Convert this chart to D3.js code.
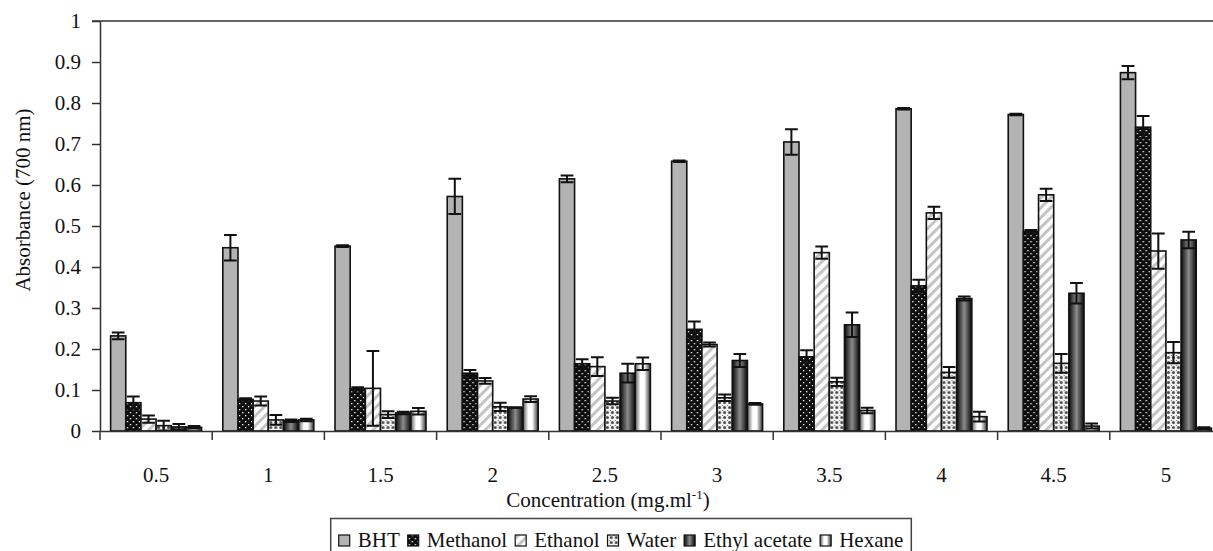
<!DOCTYPE html>
<html>
<head>
<meta charset="utf-8">
<script src="https://cdn.jsdelivr.net/npm/d3@7"></script>
<style>
  body { margin: 0; background: #fff; }
</style>
</head>
<body>
<div id="chart"></div>
<script>
// data
const categories = ['0.5', '1', '1.5', '2', '2.5', '3', '3.5', '4', '4.5', '5'];
const seriesNames = ['BHT', 'Methanol', 'Ethanol', 'Water', 'Ethyl acetate', 'Hexane'];

const bht = [0.232, 0.447, 0.451, 0.572, 0.615, 0.658, 0.705, 0.786, 0.772, 0.874];
const bhtErr = [0.008, 0.031, 0.002, 0.043, 0.008, 0.002, 0.031, 0.002, 0.002, 0.016];
const methanol = [0.069, 0.077, 0.103, 0.141, 0.164, 0.248, 0.181, 0.354, 0.487, 0.741];
const methanolErr = [0.015, 0.003, 0.004, 0.008, 0.011, 0.019, 0.016, 0.015, 0.003, 0.027];
const ethanol = [0.029, 0.073, 0.104, 0.122, 0.157, 0.211, 0.435, 0.532, 0.576, 0.439];
const ethanolErr = [0.009, 0.011, 0.091, 0.007, 0.023, 0.005, 0.015, 0.015, 0.015, 0.043];
const water = [0.013, 0.027, 0.040, 0.059, 0.073, 0.081, 0.120, 0.143, 0.165, 0.191];
const waterErr = [0.012, 0.012, 0.008, 0.010, 0.008, 0.008, 0.010, 0.013, 0.023, 0.026];
const ethylAcetate = [0.010, 0.025, 0.044, 0.057, 0.141, 0.172, 0.259, 0.323, 0.336, 0.466];
const ethylAcetateErr = [0.007, 0.003, 0.003, 0.001, 0.023, 0.016, 0.030, 0.005, 0.025, 0.020];
const hexane = [0.009, 0.027, 0.048, 0.078, 0.164, 0.066, 0.050, 0.035, 0.012, 0.007];
const hexaneErr = [0.003, 0.003, 0.008, 0.007, 0.015, 0.002, 0.007, 0.012, 0.006, 0.002];

const yTicks = [0, 0.1, 0.2, 0.3, 0.4, 0.5, 0.6, 0.7, 0.8, 0.9, 1];

const values = [bht, methanol, ethanol, water, ethylAcetate, hexane];
const errors = [bhtErr, methanolErr, ethanolErr, waterErr, ethylAcetateErr, hexaneErr];

const W = 1213, H = 551;
const margin = { left: 100, right: 1222, top: 21, bottom: 431 };
const FONT = "'Liberation Serif', Tinos, 'DejaVu Serif', serif";

const svg = d3.select('#chart').append('svg')
    .attr('width', W)
    .attr('height', H)
    .attr('font-family', FONT);

svg.append('rect').attr('width', W).attr('height', H).attr('fill', '#fff');

// fills
const defs = svg.append('defs');

const dots = defs.append('pattern').attr('id', 'p-methanol')
    .attr('width', 6).attr('height', 6).attr('patternUnits', 'userSpaceOnUse');
dots.append('rect').attr('width', 6).attr('height', 6).attr('fill', '#0d0d0d');
dots.append('rect').attr('x', 1).attr('y', 1).attr('width', 1.3).attr('height', 1.3).attr('fill', '#fff');
dots.append('rect').attr('x', 4).attr('y', 4).attr('width', 1.3).attr('height', 1.3).attr('fill', '#fff');

const stripes = defs.append('pattern').attr('id', 'p-ethanol')
    .attr('width', 7).attr('height', 7).attr('patternUnits', 'userSpaceOnUse')
    .attr('patternTransform', 'rotate(45)');
stripes.append('rect').attr('width', 7).attr('height', 7).attr('fill', '#fff');
stripes.append('rect').attr('width', 3).attr('height', 7).attr('fill', '#c4c4c4');

const lattice = defs.append('pattern').attr('id', 'p-water')
    .attr('width', 5).attr('height', 5).attr('patternUnits', 'userSpaceOnUse');
lattice.append('rect').attr('width', 5).attr('height', 5).attr('fill', '#f2f2f2');
lattice.append('circle').attr('cx', 2.5).attr('cy', 2.5).attr('r', 1.5).attr('fill', '#4a4a4a');
lattice.append('rect').attr('x', 0).attr('y', 0).attr('width', 1).attr('height', 1).attr('fill', '#777');

const dark = defs.append('linearGradient').attr('id', 'g-ethyl')
    .attr('x1', '0%').attr('x2', '100%').attr('y1', '0%').attr('y2', '0%');
dark.append('stop').attr('offset', '0%').attr('stop-color', '#080808');
dark.append('stop').attr('offset', '50%').attr('stop-color', '#8c8c8c');
dark.append('stop').attr('offset', '100%').attr('stop-color', '#080808');

const light = defs.append('linearGradient').attr('id', 'g-hexane')
    .attr('x1', '0%').attr('x2', '100%').attr('y1', '0%').attr('y2', '0%');
light.append('stop').attr('offset', '0%').attr('stop-color', '#5a5a5a');
light.append('stop').attr('offset', '35%').attr('stop-color', '#ffffff');
light.append('stop').attr('offset', '60%').attr('stop-color', '#ffffff');
light.append('stop').attr('offset', '100%').attr('stop-color', '#333');

const fills = ['#b3b3b3', 'url(#p-methanol)', 'url(#p-ethanol)', 'url(#p-water)', 'url(#g-ethyl)', 'url(#g-hexane)'];

// scales
const x = d3.scaleBand().domain(categories).range([margin.left, margin.right]).paddingInner(0).paddingOuter(0);
const xSub = d3.scaleBand().domain(seriesNames).range([0, x.bandwidth()]).paddingInner(0).paddingOuter(0.7);
const y = d3.scaleLinear().domain([0, 1]).range([margin.bottom, margin.top]);

// plot top border
svg.append('line')
    .attr('x1', margin.left - 8).attr('x2', W).attr('y1', y(1)).attr('y2', y(1))
    .attr('stroke', '#333').attr('stroke-width', 1.5);

// bars
const rows = [];
categories.forEach((c, i) => {
    seriesNames.forEach((s, j) => {
        rows.push({ cat: c, series: s, j: j, v: values[j][i], e: errors[j][i] });
    });
});

const bars = svg.append('g').selectAll('g')
    .data(rows)
    .join('g')
    .attr('transform', d => 'translate(' + (x(d.cat) + xSub(d.series)) + ',0)');

bars.append('rect')
    .attr('x', 0)
    .attr('y', d => y(d.v))
    .attr('width', xSub.bandwidth())
    .attr('height', d => y(0) - y(d.v))
    .attr('fill', d => fills[d.j])
    .attr('stroke', '#111')
    .attr('stroke-width', 1.6);

// error bars
const cap = xSub.bandwidth() * 0.42;
const cx = xSub.bandwidth() / 2;
bars.append('path')
    .attr('d', d => {
        const hi = y(d.v + d.e), lo = y(Math.max(0, d.v - d.e));
        return 'M' + cx + ',' + lo + 'V' + hi +
            'M' + (cx - cap) + ',' + hi + 'H' + (cx + cap) +
            'M' + (cx - cap) + ',' + lo + 'H' + (cx + cap);
    })
    .attr('fill', 'none')
    .attr('stroke', '#111')
    .attr('stroke-width', 2);

// axes
const yAxis = d3.axisLeft(y).tickValues(yTicks)
    .tickFormat(d => String(+d.toFixed(1)))
    .tickSize(8).tickSizeOuter(0).tickPadding(11);
svg.append('g')
    .attr('transform', 'translate(' + margin.left + ',0)')
    .call(yAxis);

const xAxis = d3.axisBottom(x).tickSize(0).tickSizeOuter(0);
const xAxisGroup = svg.append('g')
    .attr('transform', 'translate(0,' + margin.bottom + ')')
    .call(xAxis);

// band boundary ticks
xAxisGroup.selectAll('.edge')
    .data(categories)
    .join('line')
    .attr('class', 'edge')
    .attr('x1', d => x(d)).attr('x2', d => x(d))
    .attr('y1', 0).attr('y2', 9)
    .attr('stroke', '#333').attr('stroke-width', 1.5);

svg.selectAll('g').filter(function () { return this.hasAttribute('font-family'); })
    .attr('font-family', FONT).attr('font-size', 21);
svg.selectAll('.domain').attr('stroke', '#333').attr('stroke-width', 1.5);
svg.selectAll('.tick line').attr('stroke', '#333').attr('stroke-width', 1.5);
svg.selectAll('.tick text').attr('fill', '#111');
xAxisGroup.selectAll('.tick text').attr('dy', 0).attr('y', 51);

// axis titles
svg.append('text')
    .attr('transform', 'translate(30,200) rotate(-90)')
    .attr('text-anchor', 'middle')
    .attr('font-size', 21)
    .attr('fill', '#111')
    .text('Absorbance (700 nm)');

const xTitle = svg.append('text')
    .attr('x', 608).attr('y', 507)
    .attr('text-anchor', 'middle')
    .attr('font-size', 21)
    .attr('fill', '#111');
xTitle.append('tspan').text('Concentration (mg.ml');
xTitle.append('tspan').attr('dy', -8).attr('font-size', 13).text('-1');
xTitle.append('tspan').attr('dy', 8).text(')');

// legend
const legend = svg.append('g');
const box = legend.append('rect')
    .attr('fill', '#fff').attr('stroke', '#444').attr('stroke-width', 1.5);
const items = legend.append('g');
let lx = 0;
seriesNames.forEach((s, j) => {
    items.append('rect')
        .attr('x', lx).attr('y', 535)
        .attr('width', 11).attr('height', 11)
        .attr('fill', fills[j]).attr('stroke', '#111').attr('stroke-width', 1.2);
    const t = items.append('text')
        .attr('x', lx + 19).attr('y', 547)
        .attr('font-size', 21)
        .attr('fill', '#111')
        .text(s);
    lx += 19 + t.node().getComputedTextLength() + 8;
});
const legendWidth = lx - 8;
const lx0 = 621 - legendWidth / 2;
items.attr('transform', 'translate(' + lx0 + ',0)');
box.attr('x', lx0 - 8).attr('y', 518.5).attr('width', legendWidth + 16).attr('height', 40);
</script>
</body>
</html>
